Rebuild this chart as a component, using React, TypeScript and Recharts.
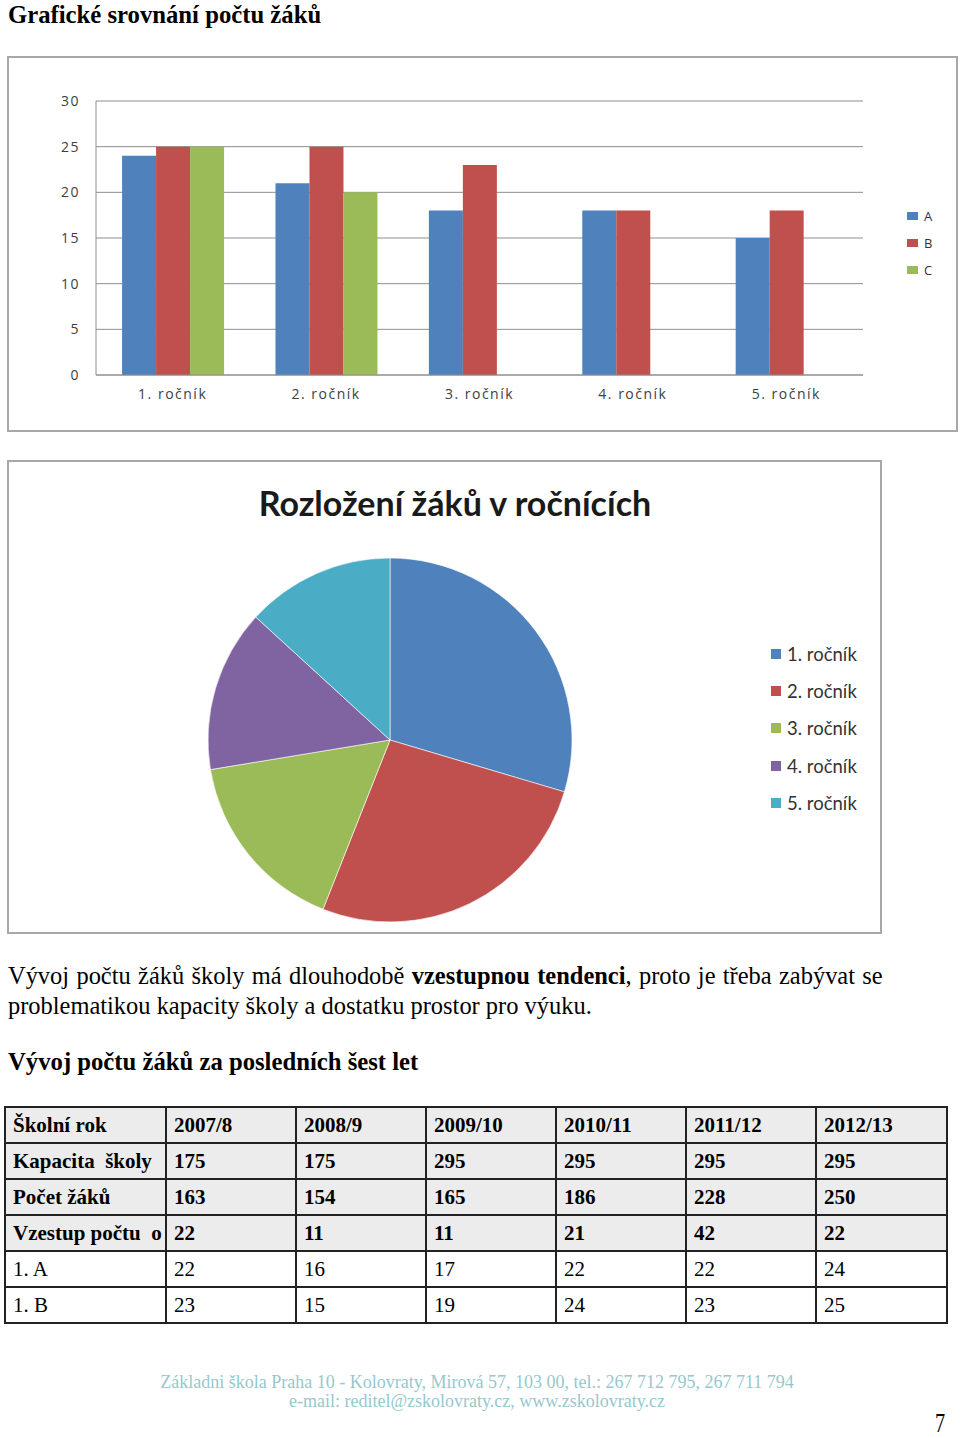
import { BarChart, Bar, XAxis, YAxis, CartesianGrid, Legend, PieChart, Pie, Cell } from 'recharts';

// bar chart: pupils per class in each grade
const grades = ['1. ročník', '2. ročník', '3. ročník', '4. ročník', '5. ročník'];
const classA = [24, 21, 18, 18, 15];
const classB = [25, 25, 23, 18, 18];
const classC = [25, 20, 0, 0, 0];
const yTicks = [0, 5, 10, 15, 20, 25, 30];

// pie chart: pupils per grade
const gradeTotals = [74, 66, 41, 36, 33];

// table
const tableHeader = ['Školní rok', '2007/8', '2008/9', '2009/10', '2010/11', '2011/12', '2012/13'];
const capacity = [175, 175, 295, 295, 295, 295];
const pupils = [163, 154, 165, 186, 228, 250];
const increase = [22, 11, 11, 21, 42, 22];
const class1A = [22, 16, 17, 22, 22, 24];
const class1B = [23, 15, 19, 24, 23, 25];

const barColors = { A: '#4F81BD', B: '#C0504D', C: '#9BBB59' };
const pieColors = ['#4F81BD', '#C0504D', '#9BBB59', '#8064A2', '#4BACC6'];

const barData = grades.map((g, i) => ({ name: g, A: classA[i], B: classB[i], C: classC[i] }));
const pieData = grades.map((g, i) => ({ name: g, value: gradeTotals[i] }));

const sans = '"Open Sans", "Liberation Sans", sans-serif';
const serif = '"Liberation Serif", "Times New Roman", serif';

const BarLegend = ({ payload }: any) => (
  <div style={{ fontFamily: sans, fontSize: 13, letterSpacing: 1, color: '#333' }}>
    {(payload || []).map((p: any) => (
      <div key={p.value} style={{ display: 'flex', alignItems: 'center', height: 27 }}>
        <span style={{ width: 11, height: 8, background: p.color, marginRight: 6 }} />
        {p.value}
      </div>
    ))}
  </div>
);

const PieLegend = ({ payload }: any) => (
  <div style={{ fontFamily: 'Lato, sans-serif', fontSize: 18.5, color: '#333' }}>
    {(payload || []).map((p: any) => (
      <div key={p.value} style={{ display: 'flex', alignItems: 'center', height: 37.3 }}>
        <span style={{ width: 10, height: 10, background: p.color, marginRight: 6 }} />
        {p.value}
      </div>
    ))}
  </div>
);

const heading = {
  position: 'absolute' as const,
  fontFamily: serif,
  fontWeight: 'bold' as const,
  fontSize: 26,
  lineHeight: '30px',
  whiteSpace: 'nowrap' as const,
  transform: 'scaleX(0.95)',
  transformOrigin: 'left top',
  color: '#000',
};

const bodyLine = {
  position: 'absolute' as const,
  left: 8,
  fontFamily: serif,
  fontSize: 26,
  lineHeight: '30px',
  whiteSpace: 'nowrap' as const,
  transform: 'scaleX(0.94)',
  transformOrigin: 'left top',
  color: '#000',
};

const cell = (bold: boolean, bg: string) => ({
  border: '2px solid #222',
  height: 34,
  padding: '0 7px',
  fontFamily: serif,
  fontSize: 21,
  fontWeight: bold ? ('bold' as const) : ('normal' as const),
  background: bg,
  textAlign: 'left' as const,
  verticalAlign: 'middle' as const,
  whiteSpace: 'nowrap' as const,
  overflow: 'hidden',
});

const rows = [
  { label: 'Kapacita  školy', values: capacity, bold: true },
  { label: 'Počet žáků', values: pupils, bold: true },
  { label: 'Vzestup počtu  o', values: increase, bold: true },
  { label: '1. A', values: class1A, bold: false },
  { label: '1. B', values: class1B, bold: false },
];

const tickStyle = { fontFamily: sans, fontSize: 14, letterSpacing: 1.5, fill: '#404040' };

export default function App() {
  return (
    <div style={{ position: 'absolute', left: 0, top: 0, width: 960, height: 1438, background: '#fff', overflow: 'hidden' }}>
      <div style={{ ...heading, left: 8, top: 0 }}>Grafické srovnání počtu žáků</div>

      <div style={{ position: 'absolute', left: 7, top: 56, width: 951, height: 376, boxSizing: 'border-box', border: '2px solid #a8a8a8' }}>
        <BarChart width={947} height={372} data={barData} margin={{ top: 43, right: 93, bottom: 25, left: 0 }} barCategoryGap="17%" barGap={0}>
          <CartesianGrid vertical={false} stroke="#8e8e8e" />
          <XAxis dataKey="name" height={30} tickLine={false} tickSize={0} tickMargin={14} axisLine={{ stroke: '#8e8e8e' }} tick={tickStyle} />
          <YAxis width={87} domain={[0, 30]} ticks={yTicks} tickLine={false} tickSize={0} tickMargin={16} axisLine={{ stroke: '#8e8e8e' }} tick={tickStyle} />
          <Legend layout="vertical" align="center" verticalAlign="middle" content={<BarLegend />}
            wrapperStyle={{ left: 898, top: 144, width: 40 }} />
          <Bar dataKey="A" name="A" fill={barColors.A} isAnimationActive={false} />
          <Bar dataKey="B" name="B" fill={barColors.B} isAnimationActive={false} />
          <Bar dataKey="C" name="C" fill={barColors.C} isAnimationActive={false} />
        </BarChart>
      </div>

      <div style={{ position: 'absolute', left: 7, top: 460, width: 875, height: 474, boxSizing: 'border-box', border: '2px solid #a8a8a8' }}>
        <div style={{ position: 'absolute', left: 146, top: 20, width: 600, textAlign: 'center', fontFamily: 'Lato, sans-serif', fontWeight: 'bold', fontSize: 34, color: '#1a1a1a' }}>
          Rozložení žáků v ročnících
        </div>
        <PieChart width={871} height={470} margin={{ top: 0, right: 0, bottom: 0, left: 0 }}>
          <Pie data={pieData} dataKey="value" nameKey="name" cx={381} cy={278} outerRadius={182} startAngle={90} endAngle={-270}
            stroke="#ffffff" strokeWidth={0.6} isAnimationActive={false}>
            {pieData.map((d, i) => (
              <Cell key={d.name} fill={pieColors[i]} />
            ))}
          </Pie>
          <Legend layout="vertical" align="center" verticalAlign="middle" content={<PieLegend />}
            wrapperStyle={{ left: 762, top: 173, width: 100 }} />
        </PieChart>
      </div>

      <div style={{ ...bodyLine, top: 961, wordSpacing: 1.3 }}>
        Vývoj počtu žáků školy má dlouhodobě <b>vzestupnou tendenci</b>, proto je třeba zabývat se
      </div>
      <div style={{ ...bodyLine, top: 991 }}>problematikou kapacity školy a dostatku prostor pro výuku.</div>

      <div style={{ ...heading, left: 8, top: 1047 }}>Vývoj počtu žáků za posledních šest let</div>

      <table style={{ position: 'absolute', left: 4, top: 1106, width: 944, borderCollapse: 'collapse', tableLayout: 'fixed' }}>
        <colgroup>
          <col style={{ width: 161 }} />
          {capacity.map((_, i) => (
            <col key={i} style={{ width: i === 5 ? 131 : 130 }} />
          ))}
        </colgroup>
        <tbody>
          <tr>
            {tableHeader.map((h) => (
              <td key={h} style={cell(true, '#ececec')}>{h}</td>
            ))}
          </tr>
          {rows.map((r) => (
            <tr key={r.label}>
              <td style={{ ...cell(r.bold, r.bold ? '#ececec' : '#fff'), whiteSpace: 'pre' }}>{r.label}</td>
              {r.values.map((v, i) => (
                <td key={i} style={cell(r.bold, r.bold ? '#ececec' : '#fff')}>{v}</td>
              ))}
            </tr>
          ))}
        </tbody>
      </table>

      <div style={{ position: 'absolute', left: 0, top: 1373, width: 954, textAlign: 'center', fontFamily: serif, fontSize: 18, lineHeight: '19px', color: '#95c9cd' }}>
        Základni škola Praha 10 - Kolovraty, Mirová 57, 103 00, tel.: 267 712 795, 267 711 794
        <br />
        e-mail: reditel@zskolovraty.cz, www.zskolovraty.cz
      </div>

      <div style={{ position: 'absolute', left: 935, top: 1408, fontFamily: serif, fontSize: 27, lineHeight: '30px', transform: 'scaleX(0.75)', transformOrigin: 'left top' }}>7</div>
    </div>
  );
}
